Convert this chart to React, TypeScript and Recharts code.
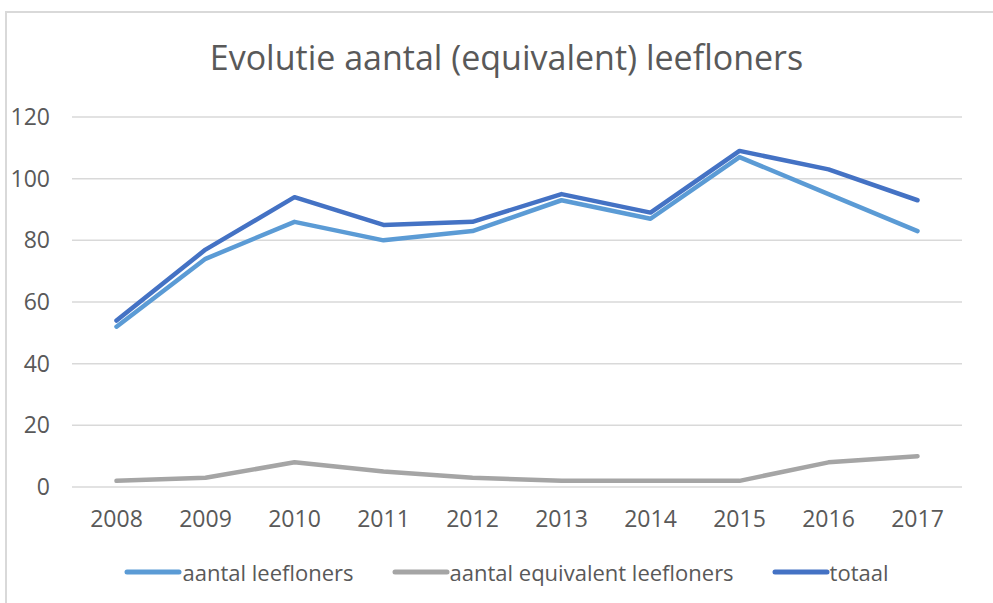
import React from 'react';
import { LineChart, Line, XAxis, YAxis, CartesianGrid } from 'recharts';

const YEARS = ['2008', '2009', '2010', '2011', '2012', '2013', '2014', '2015', '2016', '2017'];
const LEEFLONERS = [52, 74, 86, 80, 83, 93, 87, 107, 95, 83];
const EQUIVALENT = [2, 3, 8, 5, 3, 2, 2, 2, 8, 10];
const TOTAAL = [54, 77, 94, 85, 86, 95, 89, 109, 103, 93];
const Y_TICKS = [0, 20, 40, 60, 80, 100, 120];

const SERIES = [
  { key: 'leefloners', name: 'aantal leefloners', color: '#5b9bd5' },
  { key: 'equivalent', name: 'aantal equivalent leefloners', color: '#a5a5a5' },
  { key: 'totaal', name: 'totaal', color: '#4472c4' },
];

const FONT = '"Open Sans", sans-serif';
const TEXT = '#595959';

const data = YEARS.map((year, i) => ({
  year,
  leefloners: LEEFLONERS[i],
  equivalent: EQUIVALENT[i],
  totaal: TOTAAL[i],
}));

export default function App() {
  return (
    <div style={{ position: 'absolute', left: 0, top: 0, width: 993, height: 603, background: '#fff', overflow: 'hidden' }}>
      <div style={{ position: 'absolute', left: 5, top: 11, width: 1100, height: 700, border: '2px solid #d9d9d9' }} />
      <div
        style={{
          position: 'absolute',
          left: 0,
          width: 1013,
          top: 34,
          textAlign: 'center',
          fontFamily: FONT,
          fontSize: 34,
          color: TEXT,
        }}
      >
        Evolutie aantal (equivalent) leefloners
      </div>
      <div style={{ position: 'absolute', left: 0, top: 0 }}>
        <LineChart width={993} height={603} data={data} margin={{ top: 117, right: 31, bottom: 86, left: 0 }}>
          <CartesianGrid vertical={false} stroke="#d9d9d9" strokeWidth={1.5} />
          <XAxis
            dataKey="year"
            height={30}
            axisLine={false}
            tickLine={false}
            tickSize={0}
            tickMargin={24}
            padding={{ left: 44.5, right: 44.5 }}
            tick={{ fill: TEXT, fontSize: 23, fontFamily: FONT }}
            interval={0}
          />
          <YAxis
            width={72}
            domain={[0, 120]}
            ticks={Y_TICKS}
            axisLine={false}
            tickLine={false}
            tickSize={0}
            tickMargin={22}
            tick={{ fill: TEXT, fontSize: 23, fontFamily: FONT }}
          />
          {SERIES.map((s) => (
            <Line
              key={s.key}
              dataKey={s.key}
              name={s.name}
              stroke={s.color}
              strokeWidth={4.5}
              dot={false}
              strokeLinecap="round"
              strokeLinejoin="round"
              isAnimationActive={false}
            />
          ))}
        </LineChart>
      </div>
      <div
        style={{
          position: 'absolute',
          left: 0,
          width: 1013,
          top: 557,
          display: 'flex',
          justifyContent: 'center',
          gap: 38,
          fontFamily: FONT,
          fontSize: 22,
          color: TEXT,
        }}
      >
        {SERIES.map((s) => (
          <div key={s.key} style={{ display: 'flex', alignItems: 'center' }}>
            <svg width={58} height={10}>
              <line x1={3} y1={5} x2={55} y2={5} stroke={s.color} strokeWidth={5} strokeLinecap="round" />
            </svg>
            <span>{s.name}</span>
          </div>
        ))}
      </div>
    </div>
  );
}
